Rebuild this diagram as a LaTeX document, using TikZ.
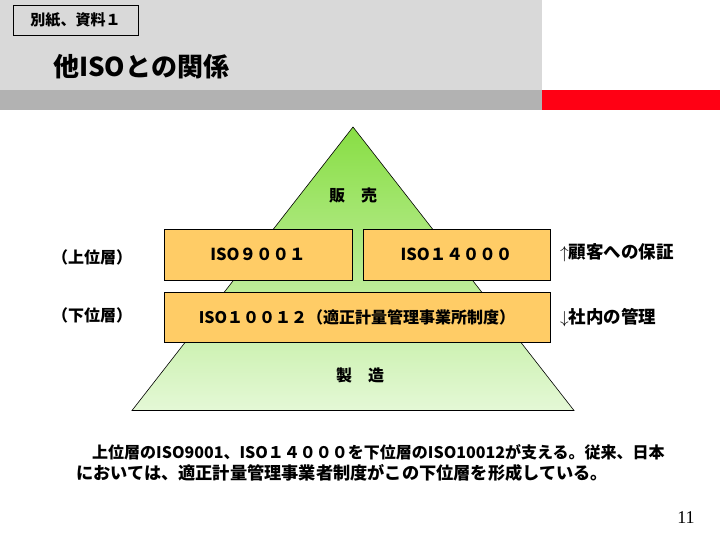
\documentclass[tikz,border=0pt]{standalone}
\usepackage{fontspec}
\usepackage{xcolor}
\usetikzlibrary{positioning}
\newfontfamily\jp{Noto Sans CJK JP}
\newfontfamily\pagefont{Liberation Serif}
\definecolor{hdrgray}{HTML}{D9D9D9}
\definecolor{bargray}{HTML}{B2B2B2}
\definecolor{hdrred}{HTML}{FF0014}
\definecolor{pyrtop}{HTML}{88DE44}
\definecolor{pyrbot}{HTML}{E4F8D6}
\definecolor{isofill}{HTML}{FFCC66}

\begin{document}
\begin{tikzpicture}[x=1pt, y=-1pt,
    every node/.style={font=\jp\bfseries, inner sep=0pt},
    isobox/.style={draw, line width=0.6pt, fill=isofill, minimum height=51pt},
    layerlabel/.style={font=\jp\bfseries\fontsize{16}{18}\selectfont},
    sidenote/.style={anchor=west, font=\jp\bfseries\fontsize{17.5}{20}\selectfont}]
        \useasboundingbox (0,0) rectangle (720,540);
        % header bands
        \fill[hdrgray] (0,0) rectangle (542,90);
        \fill[bargray] (0,90) rectangle (542,110);
        \fill[hdrred] (542,90) rectangle (720,110);
        \node[draw,line width=0.6pt,fill=hdrgray,minimum width=125pt,minimum height=30pt,font=\jp\bfseries\fontsize{15}{18}\selectfont] (tag) at (75.5,20) {別紙、資料１};
        \node[anchor=west,font=\jp\bfseries\fontsize{26}{30}\selectfont] (title) at (53,67) {他ISOとの関係};
        % pyramid
        \coordinate (apex) at (353,127);
        \coordinate (baseR) at (574,410.5);
        \coordinate (baseL) at (132,410.5);
        \shade[top color=pyrtop, bottom color=pyrbot] (apex) -- (baseR) -- (baseL) -- cycle;
        \draw[line width=0.6pt] (apex) -- (baseR) -- (baseL) -- cycle;
        \node[font=\jp\bfseries\fontsize{16}{18}\selectfont] (sales) at (353,195) {販　売};
        \node[font=\jp\bfseries\fontsize{16}{18}\selectfont] (make) at (360,375) {製　造};
        % standards
        \node[isobox,minimum width=188pt,font=\jp\bfseries\fontsize{16.5}{20}\selectfont] (iso9001) at (258,254.5) {ISO９００１};
        \node[isobox,minimum width=187pt,font=\jp\bfseries\fontsize{16.5}{20}\selectfont] (iso14000) at (456.5,254.5) {ISO１４０００};
        \node[isobox,minimum width=386pt,minimum height=50pt,font=\jp\bfseries\fontsize{16}{20}\selectfont] (iso10012) at (357,317) {ISO１００１２（適正計量管理事業所制度）};
        \node[layerlabel] (upper) at (92,257) {（上位層）};
        \node[layerlabel] (lower) at (92,315) {（下位層）};
        \node[sidenote] (assure) at (560,253) {$\uparrow$顧客への保証};
        \node[sidenote] (control) at (560,318) {$\downarrow$社内の管理};
        % note
        \node[anchor=north west,align=left,font=\jp\bfseries\fontsize{16}{21.5}\selectfont] (note) at (76,444) {　上位層のISO9001、ISO１４０００を下位層のISO10012が支える。従来、日本\\{\fontsize{17.2}{21.5}\selectfont においては、適正計量管理事業者制度がこの下位層を形成している。}};
        \node[font=\pagefont\fontsize{18}{20}\selectfont] (pageno) at (686,518) {11};
      \end{tikzpicture}
\end{document}
